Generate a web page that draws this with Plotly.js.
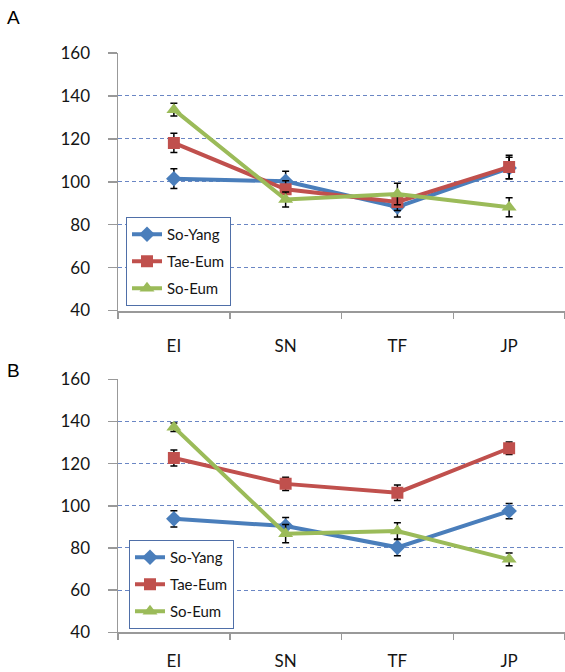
<!DOCTYPE html>
<html>
<head>
<meta charset="utf-8">
<script src="https://cdn.plot.ly/plotly-3.0.1.min.js"></script>
<style>html,body{margin:0;padding:0;background:#fff;}</style>
</head>
<body>
<div id="chart" style="width:565px;height:672px;"></div>
<script>
const categories = ['EI', 'SN', 'TF', 'JP'];
const seriesNames = ['So-Yang', 'Tae-Eum', 'So-Eum'];

// Panel A
const aSoYang = [101.4, 100.2, 88.3, 106.4];
const aSoYangErr = [4.6, 4.7, 4.7, 5.0];
const aTaeEum = [118.1, 96.5, 90.6, 106.9];
const aTaeEumErr = [4.5, 4.0, 4.0, 5.5];
const aSoEum = [133.6, 91.7, 94.3, 88.1];
const aSoEumErr = [3.0, 3.5, 5.0, 4.4];

// Panel B
const bSoYang = [93.8, 90.4, 80.3, 97.5];
const bSoYangErr = [3.9, 4.0, 4.0, 3.6];
const bTaeEum = [122.7, 110.4, 106.2, 127.3];
const bTaeEumErr = [3.8, 3.2, 3.7, 3.0];
const bSoEum = [137.3, 86.8, 88.0, 74.6];
const bSoEumErr = [2.0, 4.3, 4.0, 3.0];

const colors = ['#4a7ebb', '#c0504d', '#9bbb59'];
const symbols = ['diamond', 'square', 'triangle-up'];
const msizes = [12, 12, 13];

function mk(name, idx, y, err, xa, ya, leg) {
  return {
    type: 'scatter', mode: 'lines+markers', name: name,
    x: categories, y: y, xaxis: xa, yaxis: ya, legend: leg,
    legendgroup: leg + '_' + idx,
    line: {color: colors[idx], width: 4},
    marker: {symbol: symbols[idx], size: msizes[idx], color: colors[idx]},
    error_y: {type: 'data', array: err, visible: true, color: '#000', thickness: 1.5, width: 3.5},
    hoverinfo: 'skip'
  };
}

const data = [
  mk(seriesNames[0], 0, aSoYang, aSoYangErr, 'x', 'y', 'legend'),
  mk(seriesNames[1], 1, aTaeEum, aTaeEumErr, 'x', 'y', 'legend'),
  mk(seriesNames[2], 2, aSoEum, aSoEumErr, 'x', 'y', 'legend'),
  mk(seriesNames[0], 0, bSoYang, bSoYangErr, 'x2', 'y2', 'legend2'),
  mk(seriesNames[1], 1, bTaeEum, bTaeEumErr, 'x2', 'y2', 'legend2'),
  mk(seriesNames[2], 2, bSoEum, bSoEumErr, 'x2', 'y2', 'legend2')
];

const H = 672, L = 118, W = 447;
function py(p) { return 1 - p / H; }
function px(p) { return (p - L) / W; }

const xCommon = {
  type: 'category', domain: [0, 1], range: [-0.5, 3.5], tickson: 'boundaries',
  ticks: 'outside', ticklen: 6, tickwidth: 1.5, tickcolor: '#999',
  showline: true, linecolor: '#999', linewidth: 2, showgrid: false, zeroline: false,
  ticklabelstandoff: 19, automargin: false,
  tickfont: {family: 'Lato, sans-serif', size: 17, color: '#151515'}
};
const yCommon = {
  range: [40, 160], tick0: 40, dtick: 20, ticks: 'outside', ticklen: 9, tickwidth: 1.5, tickcolor: '#999',
  showline: true, linecolor: '#999', linewidth: 1.5, showgrid: true, gridcolor: '#6a86c4',
  griddash: '4px,3px', gridwidth: 1, zeroline: false, ticklabelstandoff: 14, automargin: false,
  tickfont: {family: 'Lato, sans-serif', size: 17, color: '#151515'}
};

const legendCommon = {
  xanchor: 'left', yanchor: 'top', bgcolor: '#fff', bordercolor: '#4f6fa8', borderwidth: 1,
  font: {family: 'Lato, sans-serif', size: 15, color: '#151515'}, itemwidth: 30, tracegroupgap: 4.5
};

const layout = {
  width: 565, height: 672,
  margin: {l: L, r: 0, t: 0, b: 0},
  paper_bgcolor: '#fff', plot_bgcolor: '#fff',
  showlegend: true,
  xaxis: Object.assign({}, xCommon, {anchor: 'y'}),
  yaxis: Object.assign({}, yCommon, {anchor: 'x', domain: [py(310.5), py(53)]}),
  xaxis2: Object.assign({}, xCommon, {anchor: 'y2', ticklabelstandoff: 12}),
  yaxis2: Object.assign({}, yCommon, {anchor: 'x2', domain: [py(632.3), py(379.3)]}),
  legend: Object.assign({}, legendCommon, {x: px(126), y: py(217)}),
  legend2: Object.assign({}, legendCommon, {x: px(129), y: py(540)}),
  annotations: [
    {text: 'A', xref: 'paper', yref: 'paper', x: px(13), y: py(17), xanchor: 'center', yanchor: 'middle',
     showarrow: false, font: {family: 'Liberation Sans, Arial, sans-serif', size: 19, color: '#000'}},
    {text: 'B', xref: 'paper', yref: 'paper', x: px(13), y: py(370), xanchor: 'center', yanchor: 'middle',
     showarrow: false, font: {family: 'Liberation Sans, Arial, sans-serif', size: 19, color: '#000'}}
  ]
};

Plotly.newPlot('chart', data, layout, {staticPlot: true, displayModeBar: false});
</script>
</body>
</html>
